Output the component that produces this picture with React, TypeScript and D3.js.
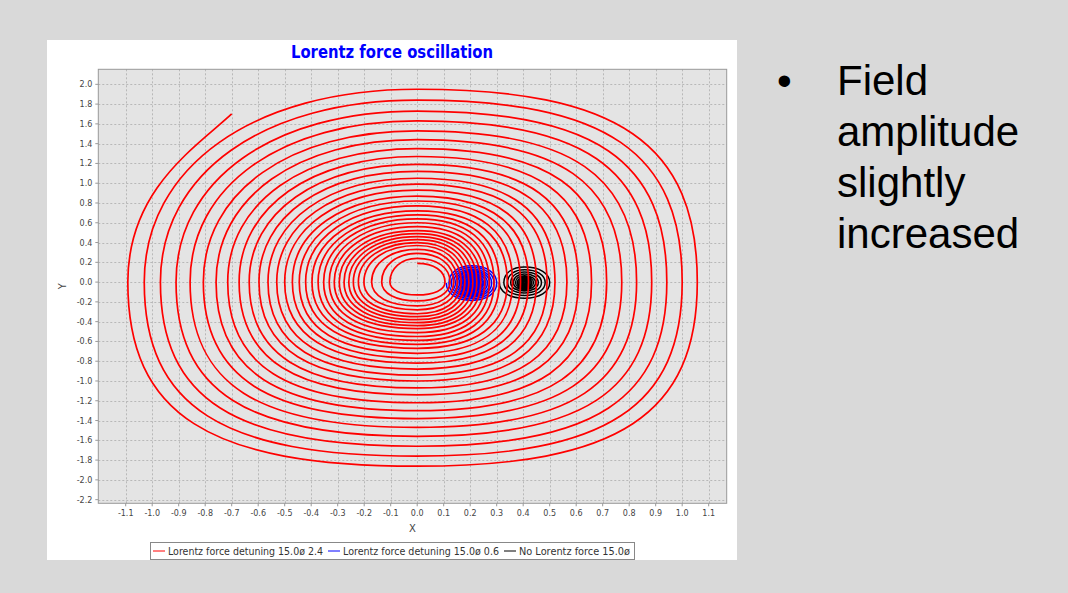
import React from "react"
import * as d3 from "d3"

/** Axis ticks */
const xTicks = [-1.1, -1.0, -0.9, -0.8, -0.7, -0.6, -0.5, -0.4, -0.3, -0.2, -0.1, 0.0, 0.1, 0.2, 0.3, 0.4, 0.5, 0.6, 0.7, 0.8, 0.9, 1.0, 1.1]
const yTicks = [2.0, 1.8, 1.6, 1.4, 1.2, 1.0, 0.8, 0.6, 0.4, 0.2, 0.0, -0.2, -0.4, -0.6, -0.8, -1.0, -1.2, -1.4, -1.6, -1.8, -2.0, -2.2]
const xDomain = [-1.2034, 1.168]
const yDomain = [-2.237, 2.152]

/** Red spiral: where each turn crosses the axes (outer turn first) */
const redStart = [-0.7, 1.7]
const redLeft = [-1.092, -1.03, -0.969, -0.91, -0.857, -0.807, -0.759, -0.715, -0.672, -0.634, -0.597, -0.563, -0.53, -0.5, -0.471, -0.445, -0.421, -0.397, -0.374, -0.353, -0.332, -0.313, -0.294, -0.276, -0.258, -0.241, -0.222, -0.201, -0.172, -0.134, -0.103]
const redBottom = [-1.862, -1.76, -1.66, -1.56, -1.47, -1.38, -1.3, -1.22, -1.14, -1.07, -1.0, -0.94, -0.88, -0.82, -0.77, -0.72, -0.67, -0.63, -0.59, -0.55, -0.51, -0.47, -0.44, -0.41, -0.38, -0.35, -0.32, -0.28, -0.24, -0.19, -0.13]
const redRight = [1.057, 1.0, 0.942, 0.885, 0.828, 0.772, 0.715, 0.658, 0.608, 0.565, 0.52, 0.49, 0.45, 0.42, 0.39, 0.36, 0.34, 0.31, 0.29, 0.272, 0.255, 0.24, 0.225, 0.21, 0.195, 0.18, 0.166, 0.152, 0.138, 0.124, 0.105]
const redTop = [1.95, 1.84, 1.73, 1.63, 1.53, 1.44, 1.35, 1.27, 1.19, 1.12, 1.05, 0.99, 0.93, 0.87, 0.82, 0.77, 0.72, 0.68, 0.64, 0.6, 0.56, 0.52, 0.49, 0.46, 0.43, 0.4, 0.37, 0.33, 0.29, 0.24, 0.19]

/** Blue spiral: centre and half widths / heights of each turn */
const blueCenter = [0.205, -0.01]
const blueRx = [0.095, 0.085, 0.076, 0.068, 0.06, 0.053, 0.046, 0.04, 0.034, 0.029, 0.024, 0.019, 0.015, 0.011, 0.008, 0.005, 0.002]
const blueRy = [0.175, 0.157, 0.14, 0.125, 0.111, 0.098, 0.085, 0.074, 0.063, 0.054, 0.044, 0.035, 0.028, 0.02, 0.015, 0.009, 0.004]

/** Black spiral */
const blackCenter = [0.405, -0.005]
const blackRx = [0.095, 0.078, 0.064, 0.052, 0.042, 0.034, 0.027, 0.021, 0.016, 0.012, 0.008, 0.005, 0.002]
const blackRy = [0.158, 0.13, 0.106, 0.086, 0.07, 0.056, 0.045, 0.035, 0.027, 0.02, 0.013, 0.008, 0.004]

const legendLabels = ["Lorentz force detuning 15.0\u00f8 2.4", "Lorentz force detuning 15.0\u00f8 0.6", "No Lorentz force 15.0\u00f8"]
const seriesColors = ["#ff0000", "#0000ff", "#000000"]
const bulletLines = ["Field", "amplitude", "slightly", "increased"]

type Cross = { px: number; py: number; horiz: boolean }

/** quarter turn between two axis crossings, k controls how square it is */
const quarter = (p: d3.Path, a: Cross, b: Cross, k: number) => {
	const cx = a.horiz ? a.px : b.px
	const cy = a.horiz ? b.py : a.py
	p.bezierCurveTo(
		a.px + k * (cx - a.px), a.py + k * (cy - a.py),
		b.px + k * (cx - b.px), b.py + k * (cy - b.py),
		b.px, b.py
	)
}

export default function App() {
	const width = 1068
	const height = 593

	/** panel and plot area */
	const panel = { left: 47, top: 40, right: 737, bottom: 560 }
	const plot = { left: 98.3, top: 69.3, right: 726.7, bottom: 503.3 }

	const x = d3.scaleLinear().domain(xDomain).range([plot.left, plot.right])
	const y = d3.scaleLinear().domain(yDomain).range([plot.bottom, plot.top])

	/** red spiral path */
	const redCross: Cross[] = []
	redLeft.forEach((_, i) => {
		redCross.push({ px: x(redLeft[i]), py: y(0), horiz: true })
		redCross.push({ px: x(0), py: y(redBottom[i]), horiz: false })
		redCross.push({ px: x(redRight[i]), py: y(0), horiz: true })
		redCross.push({ px: x(0), py: y(redTop[i]), horiz: false })
	})
	/** squareness: outer turns are boxier, the top-left quarter is rounder */
	const kScale = d3.scaleLinear().domain([0, redCross.length]).range([0.72, 0.6])
	const kTopLeft = d3.scaleLinear().domain([0, redCross.length]).range([0.6, 0.58])
	const redPath = d3.path()
	const sx = x(redStart[0])
	const sy = y(redStart[1])
	const first = redCross[0]
	redPath.moveTo(sx, sy)
	redPath.bezierCurveTo(sx - 0.35 * (sx - first.px), sy + 0.2 * (first.py - sy), first.px, first.py - 0.55 * (first.py - sy), first.px, first.py)
	for (let j = 0; j < redCross.length - 1; j++) {
		const k = j % 4 === 3 ? kTopLeft(j) : kScale(j)
		quarter(redPath, redCross[j], redCross[j + 1], k)
	}

	/** small spirals */
	const smallSpiral = (center: number[], rx: number[], ry: number[]) => {
		const pts: Cross[] = []
		rx.forEach((_, i) => {
			pts.push({ px: x(center[0] - rx[i]), py: y(center[1]), horiz: true })
			pts.push({ px: x(center[0]), py: y(center[1] - ry[i]), horiz: false })
			pts.push({ px: x(center[0] + rx[i]), py: y(center[1]), horiz: true })
			pts.push({ px: x(center[0]), py: y(center[1] + ry[i]), horiz: false })
		})
		const p = d3.path()
		p.moveTo(pts[0].px, pts[0].py)
		for (let j = 0; j < pts.length - 1; j++) quarter(p, pts[j], pts[j + 1], 0.6)
		return p.toString()
	}
	const bluePath = smallSpiral(blueCenter, blueRx, blueRy)
	const blackPath = smallSpiral(blackCenter, blackRx, blackRy)

	const axisFont = "'DejaVu Sans', Verdana, sans-serif"
	const fmt = (t: number) => t.toFixed(1)

	/** legend layout */
	const legendY = 551
	const legendItemX = [153, 328, 504]
	const legendTextWidth = [155, 156, 111]

	return (
		<div style={{ position: "fixed", left: 0, top: 0 }}>
			<svg width={width} height={height} style={{ display: "block" }}>
				<defs>
					<clipPath id="plot-clip">
						<rect x={plot.left} y={plot.top} width={plot.right - plot.left} height={plot.bottom - plot.top} />
					</clipPath>
				</defs>
				<rect x={0} y={0} width={width} height={height} fill="#d9d9d9" />
				<rect x={panel.left} y={panel.top} width={panel.right - panel.left} height={panel.bottom - panel.top} fill="#ffffff" />

				<text x={(panel.left + panel.right) / 2} y={57.5} textAnchor="middle" fill="#0000ff" fontWeight="bold"
					fontFamily="'DejaVu Sans Condensed', 'DejaVu Sans', sans-serif" fontSize={17} textLength={202} lengthAdjust="spacingAndGlyphs">
					Lorentz force oscillation
				</text>

				<rect x={plot.left} y={plot.top} width={plot.right - plot.left} height={plot.bottom - plot.top} fill="#e4e4e4" />

				{/* grid */}
				<g stroke="#b8b8b8" strokeWidth={1} strokeDasharray="2,2">
					{xTicks.map(t => <line key={"gx" + t} x1={Math.round(x(t)) + 0.5} x2={Math.round(x(t)) + 0.5} y1={plot.top} y2={plot.bottom} />)}
					{yTicks.map(t => <line key={"gy" + t} y1={Math.round(y(t)) + 0.5} y2={Math.round(y(t)) + 0.5} x1={plot.left} x2={plot.right} />)}
				</g>

				<g clipPath="url(#plot-clip)" fill="none" strokeLinejoin="round">
					<path d={blackPath} stroke={seriesColors[2]} strokeWidth={1.5} />
					<path d={bluePath} stroke={seriesColors[1]} strokeWidth={1.5} />
					<path d={redPath.toString()} stroke={seriesColors[0]} strokeWidth={1.7} />
				</g>

				<rect x={plot.left} y={plot.top} width={plot.right - plot.left} height={plot.bottom - plot.top} fill="none" stroke="#999999" strokeWidth={1} />

				{/* axes */}
				<g fontFamily={axisFont} fontSize={8} fill="#444444">
					{yTicks.map(t => (
						<g key={"yt" + t}>
							<line x1={plot.left - 3} x2={plot.left} y1={y(t)} y2={y(t)} stroke="#999999" />
							<text x={plot.left - 6} y={y(t) + 3} textAnchor="end">{fmt(t)}</text>
						</g>
					))}
					{xTicks.map(t => (
						<g key={"xt" + t}>
							<line x1={x(t)} x2={x(t)} y1={plot.bottom} y2={plot.bottom + 3} stroke="#999999" />
							<text x={x(t)} y={plot.bottom + 13} textAnchor="middle">{fmt(t)}</text>
						</g>
					))}
				</g>
				<text x={(plot.left + plot.right) / 2} y={532} textAnchor="middle" fontFamily={axisFont} fontSize={10} fill="#444444">X</text>
				<text transform={`translate(66, ${(plot.top + plot.bottom) / 2}) rotate(-90)`} textAnchor="middle" fontFamily={axisFont} fontSize={10} fill="#444444">Y</text>

				{/* legend */}
				<rect x={150.5} y={542.5} width={484} height={17} fill="#ffffff" stroke="#888888" strokeWidth={1} />
				<g fontFamily={axisFont} fontSize={10} fill="#333333">
					{legendLabels.map((label, i) => (
						<g key={label}>
							<line x1={legendItemX[i]} x2={legendItemX[i] + 12} y1={legendY} y2={legendY} stroke={seriesColors[i]} strokeWidth={1} />
							<text x={legendItemX[i] + 15} y={legendY + 3.6} textLength={legendTextWidth[i]} lengthAdjust="spacingAndGlyphs">{label}</text>
						</g>
					))}
				</g>

				{/* bullet text */}
				<g fontFamily="'Liberation Sans', Arial, sans-serif" fontSize={42} fill="#000000">
					<text x={777} y={95}>{"\u2022"}</text>
					{bulletLines.map((line, i) => (
						<text key={line} x={837} y={94.5 + i * 51.3}>{line}</text>
					))}
				</g>
			</svg>
		</div>
	)
}
